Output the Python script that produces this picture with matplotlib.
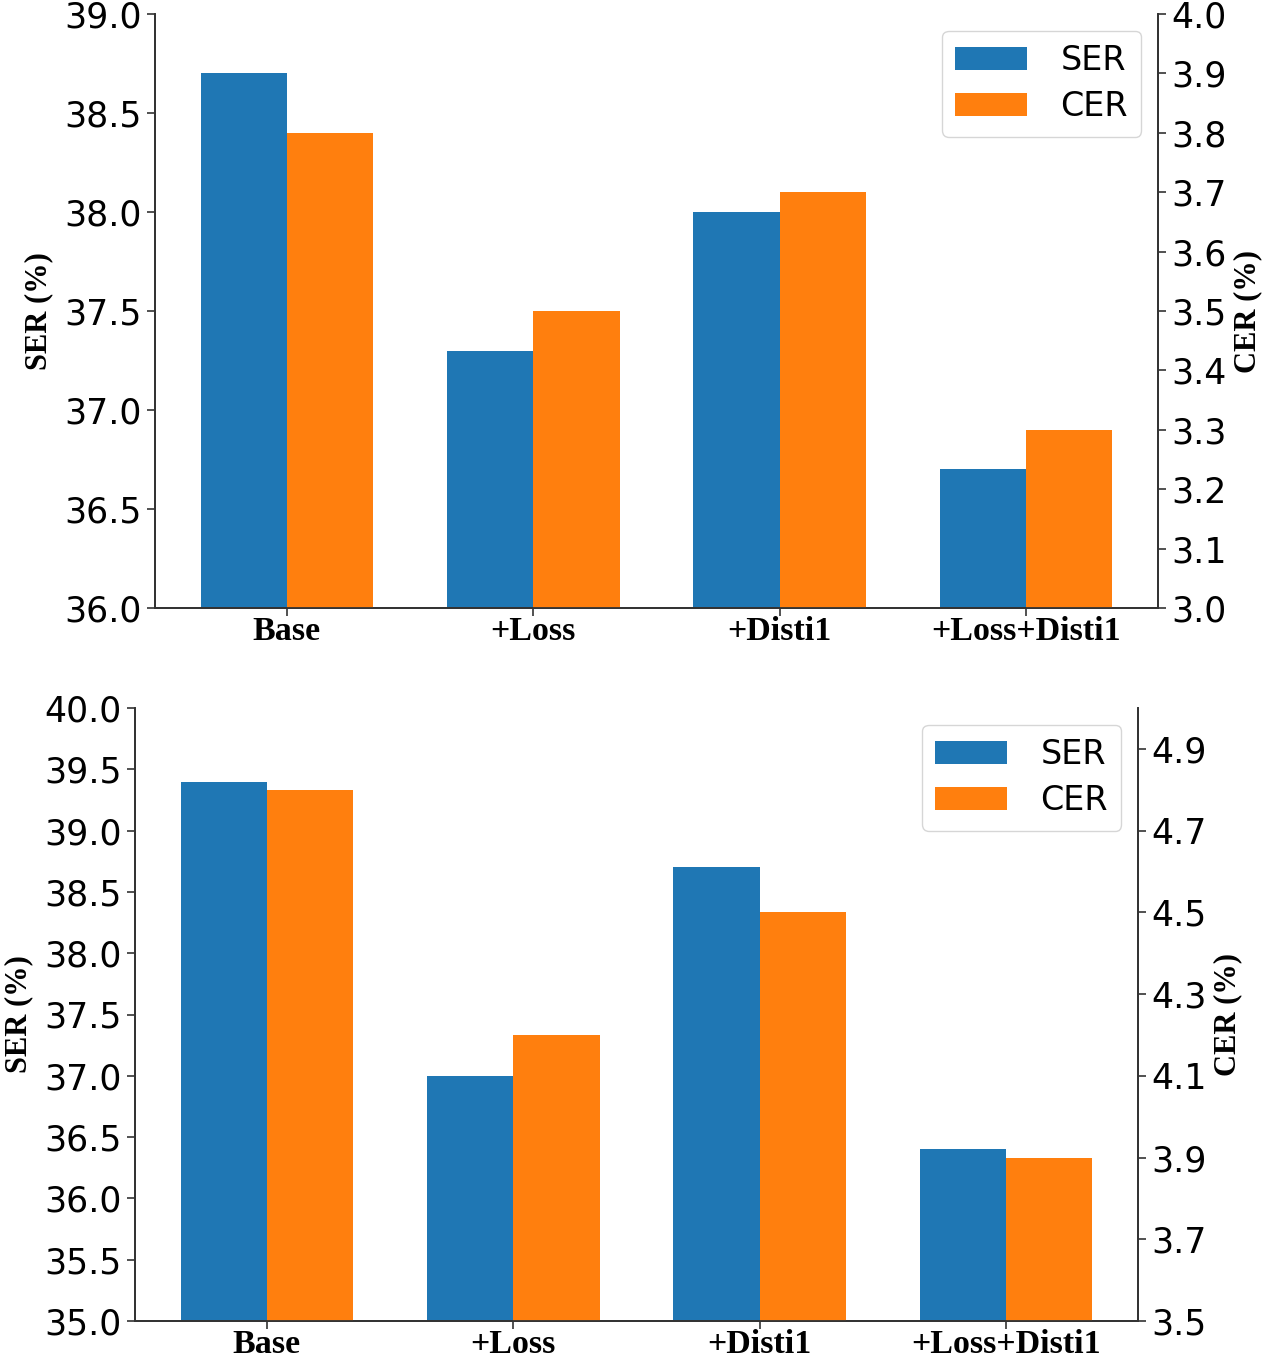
import matplotlib
matplotlib.use("Agg")
import matplotlib.pyplot as plt
import numpy as np

categories = ["Base", "+Loss", "+Disti1", "+Loss+Disti1"]

# Top chart
top_ser = [38.7, 37.3, 38.0, 36.7]
top_cer = [3.8, 3.5, 3.7, 3.3]
top_ser_ticks = [36.0, 36.5, 37.0, 37.5, 38.0, 38.5, 39.0]
top_cer_ticks = [3.0, 3.1, 3.2, 3.3, 3.4, 3.5, 3.6, 3.7, 3.8, 3.9, 4.0]

# Bottom chart
bot_ser = [39.4, 37.0, 38.7, 36.4]
bot_cer = [4.8, 4.2, 4.5, 3.9]
bot_ser_ticks = [35.0, 35.5, 36.0, 36.5, 37.0, 37.5, 38.0, 38.5, 39.0, 39.5, 40.0]
bot_cer_ticks = [3.5, 3.7, 3.9, 4.1, 4.3, 4.5, 4.7, 4.9]

BLUE = "#1f77b4"
ORANGE = "#ff7f0e"
W, H = 1267, 1357
fig = plt.figure(figsize=(W / 100, H / 100), dpi=100)

serif = dict(family="Liberation Serif", fontweight="bold")
TICK_FS = 25


def panel(rect, ser, cer, ser_lim, cer_lim, ser_ticks, cer_ticks, cer_fmt):
    ax = fig.add_axes(rect)
    ax2 = ax.twinx()
    x = np.arange(len(categories))
    w = 0.35
    b1 = ax.bar(x - w / 2, ser, w, color=BLUE, label="SER")
    b2 = ax2.bar(x + w / 2, cer, w, color=ORANGE, label="CER")
    ax.set_ylim(*ser_lim)
    ax2.set_ylim(*cer_lim)
    ax.set_yticks(ser_ticks)
    ax.set_yticklabels([f"{t:.1f}" for t in ser_ticks])
    ax2.set_yticks(cer_ticks)
    ax2.set_yticklabels([cer_fmt.format(t) for t in cer_ticks])
    ax.set_xticks(x)
    ax.set_xticklabels(categories, fontsize=24.5, **serif)
    for a in (ax, ax2):
        a.spines["top"].set_visible(False)
        a.tick_params(axis="y", labelsize=TICK_FS, length=6, width=1.2, colors="#333333", labelcolor="black")
        for s in a.spines.values():
            s.set_color("#333333")
            s.set_linewidth(1.3)
    ax.tick_params(axis="x", length=6, width=1.2, colors="#333333", labelcolor="black", pad=0)
    ax.set_ylabel("SER (%)", fontsize=22, **serif)
    ax2.set_ylabel("CER (%)", fontsize=22, **serif)
    ax.legend([b1, b2], ["SER", "CER"], loc="upper right", fontsize=TICK_FS - 1,
              handletextpad=1.0, handlelength=2.15, labelspacing=0.4, borderaxespad=0.5)
    return ax, ax2


ax, ax2 = panel([155 / W, 1 - 608 / H, 1003 / W, 594 / H], top_ser, top_cer,
                (36.0, 39.0), (3.0, 4.0), top_ser_ticks, top_cer_ticks, "{:.1f}")
ax.yaxis.set_label_coords((53 - 155) / 1003, 0.5)
ax2.yaxis.set_label_coords((1233 - 155) / 1003, 0.5)

bx, bx2 = panel([135 / W, 1 - 1321 / H, 1003 / W, 613 / H], bot_ser, bot_cer,
                (35.0, 40.0), (3.5, 5.0), bot_ser_ticks, bot_cer_ticks, "{:.1f}")
bx.yaxis.set_label_coords((33 - 135) / 1003, 0.5)
bx2.yaxis.set_label_coords((1213 - 135) / 1003, 0.5)

fig.savefig("out.png", dpi=100)
